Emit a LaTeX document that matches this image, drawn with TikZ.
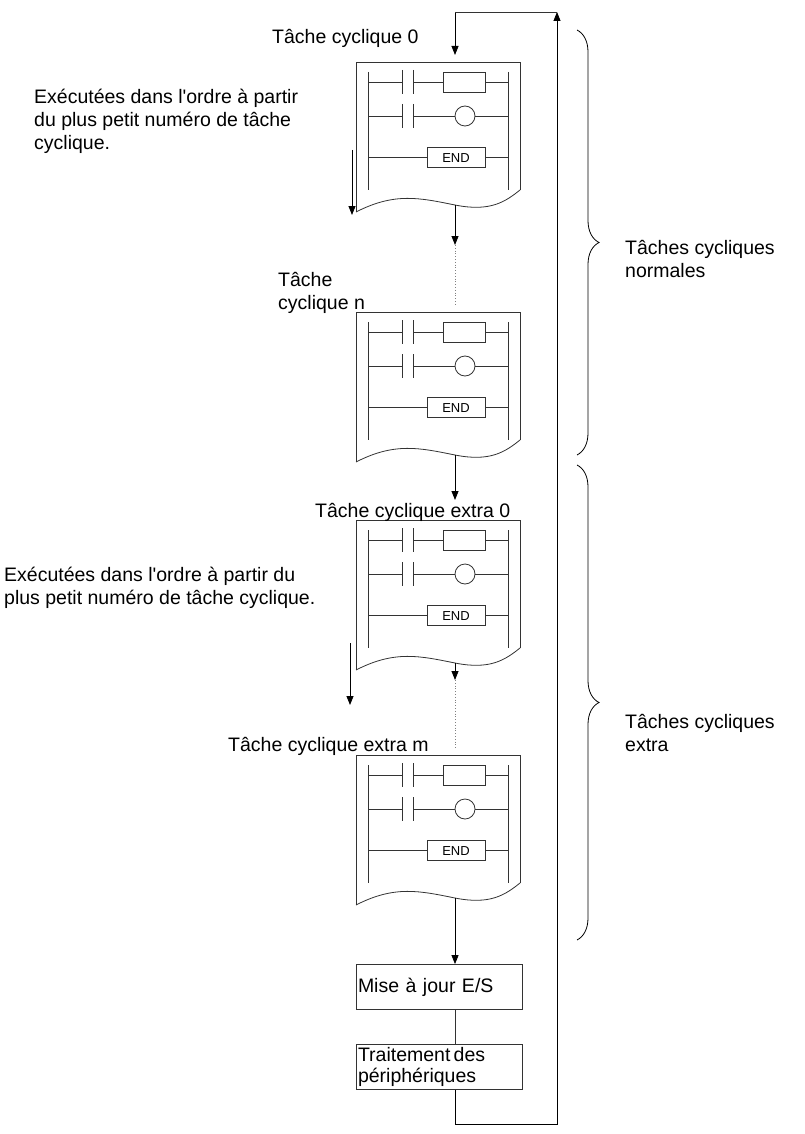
\documentclass[tikz,border=0pt]{standalone}
\usepackage{fontspec}
\setmainfont{Liberation Sans}
\usetikzlibrary{arrows.meta,decorations.pathreplacing}

\tikzset{
    fleche/.style={-{Triangle[length=9pt,width=7pt]}, line width=0.8pt},
    trait/.style={line width=0.8pt, draw=black!80},
    texte/.style={font=\fontsize{19.5}{23}\selectfont, align=left, inner sep=0pt},
    boite/.style={draw=black!80, line width=0.8pt, minimum width=166pt, minimum height=45pt, text width=162pt, inner sep=2pt, font=\fontsize{19.5}{21}\selectfont, align=left},
    accolade/.style={decorate, decoration={brace, amplitude=22pt, aspect=0.5}, line width=0.8pt}
}

% bloc de programme en langage a contacts (haut a la cote #2)
\newcommand{\programme}[2]{
    \coordinate (#1h) at (455,#2);
    \coordinate (#1b) at (455,#2+143);
    \draw[trait] (356,#2+150) -- (356,#2) -- (520,#2) -- (520,#2+128);
    \draw[trait] (356,#2+150) .. controls (395,#2+130) and (420,#2+136) .. (455,#2+143)
        .. controls (490,#2+150) and (505,#2+140) .. (520,#2+128);
    \draw[trait] (368,#2+10) -- (368,#2+128);
    \draw[trait] (508,#2+10) -- (508,#2+128);
    % premiere ligne : contact et bobine
    \draw[trait] (368,#2+20) -- (402,#2+20) (413,#2+20) -- (443,#2+20) (485,#2+20) -- (508,#2+20);
    \draw[trait] (402,#2+8) -- (402,#2+32) (413,#2+8) -- (413,#2+32);
    \draw[trait] (443,#2+10) rectangle (485,#2+30);
    % deuxieme ligne : contact et sortie
    \draw[trait] (368,#2+54) -- (402,#2+54) (413,#2+54) -- (455,#2+54) (475,#2+54) -- (508,#2+54);
    \draw[trait] (402,#2+42) -- (402,#2+66) (413,#2+42) -- (413,#2+66);
    \draw[trait] (465,#2+54) circle (10);
    % fin du programme
    \draw[trait] (368,#2+95) -- (427,#2+95) (485,#2+95) -- (508,#2+95);
    \draw[trait] (427,#2+85) rectangle (485,#2+105);
    \node[font=\fontsize{13}{15}\selectfont] at (456,#2+96) {END};
}

\begin{document}
\begin{tikzpicture}[x=1pt,y=-1pt]
    \useasboundingbox (0,0) rectangle (804,1134);

    \programme{p0}{62}
    \programme{pn}{312}
    \programme{x0}{520}
    \programme{xm}{755}

    \node[boite] (es) at (439,987) {Mise à jour E/S};
    \node[boite] (per) at (439,1067) {Traitement\,des\\périphériques};

    \coordinate (haut) at (455,12);
    \coordinate (hautd) at (557,12);
    \coordinate (basd) at (557,1124);
    \coordinate (bas) at (455,1124);

    % enchainement des taches
    \draw[fleche] (haut) -- (455,55);
    \draw[fleche] (p0b) -- (455,245);
    \draw[gray, dotted, line width=0.8pt] (455,245) -- (455,305);
    \draw[fleche] (pnb) -- (455,500);
    \draw[fleche] (x0b) -- (455,680);
    \draw[gray, dotted, line width=0.8pt] (455,680) -- (455,748);
    \draw[fleche] (xmb) -- (xmb |- es.north);
    \draw[trait] (es.south -| bas) -- (per.north -| bas);
    \draw[fleche] (per.south -| bas) -- (bas) -- (basd) -- (hautd);
    \draw[trait] (hautd) -- (haut);

    % textes
    \node[texte, anchor=west] (t0) at (272,38) {Tâche cyclique 0};
    \node[texte, anchor=north west] (ordre1) at (34,89) {Exécutées dans l\textquotesingle ordre à partir\\du plus petit numéro de tâche\\cyclique.};
    \draw[fleche] (352,150) -- (352,215);
    \node[texte, anchor=north west] (tn) at (278,272) {Tâche\\cyclique n};
    \node[texte, anchor=west] (tx0) at (315,512) {Tâche cyclique extra 0};
    \node[texte, anchor=north west] (ordre2) at (4,567) {Exécutées dans l\textquotesingle ordre à partir du\\plus petit numéro de tâche cyclique.};
    \draw[fleche] (350,643) -- (350,705);
    \node[texte, anchor=west] (txm) at (228,746) {Tâche cyclique extra m};

    % accolades
    \draw[accolade] (577,30) -- (577,455);
    \draw[accolade] (577,465) -- (577,940);
    \node[texte, anchor=west] (norm) at (625,259) {Tâches cycliques\\normales};
    \node[texte, anchor=west] (extra) at (625,733) {Tâches cycliques\\extra};
\end{tikzpicture}
\end{document}
